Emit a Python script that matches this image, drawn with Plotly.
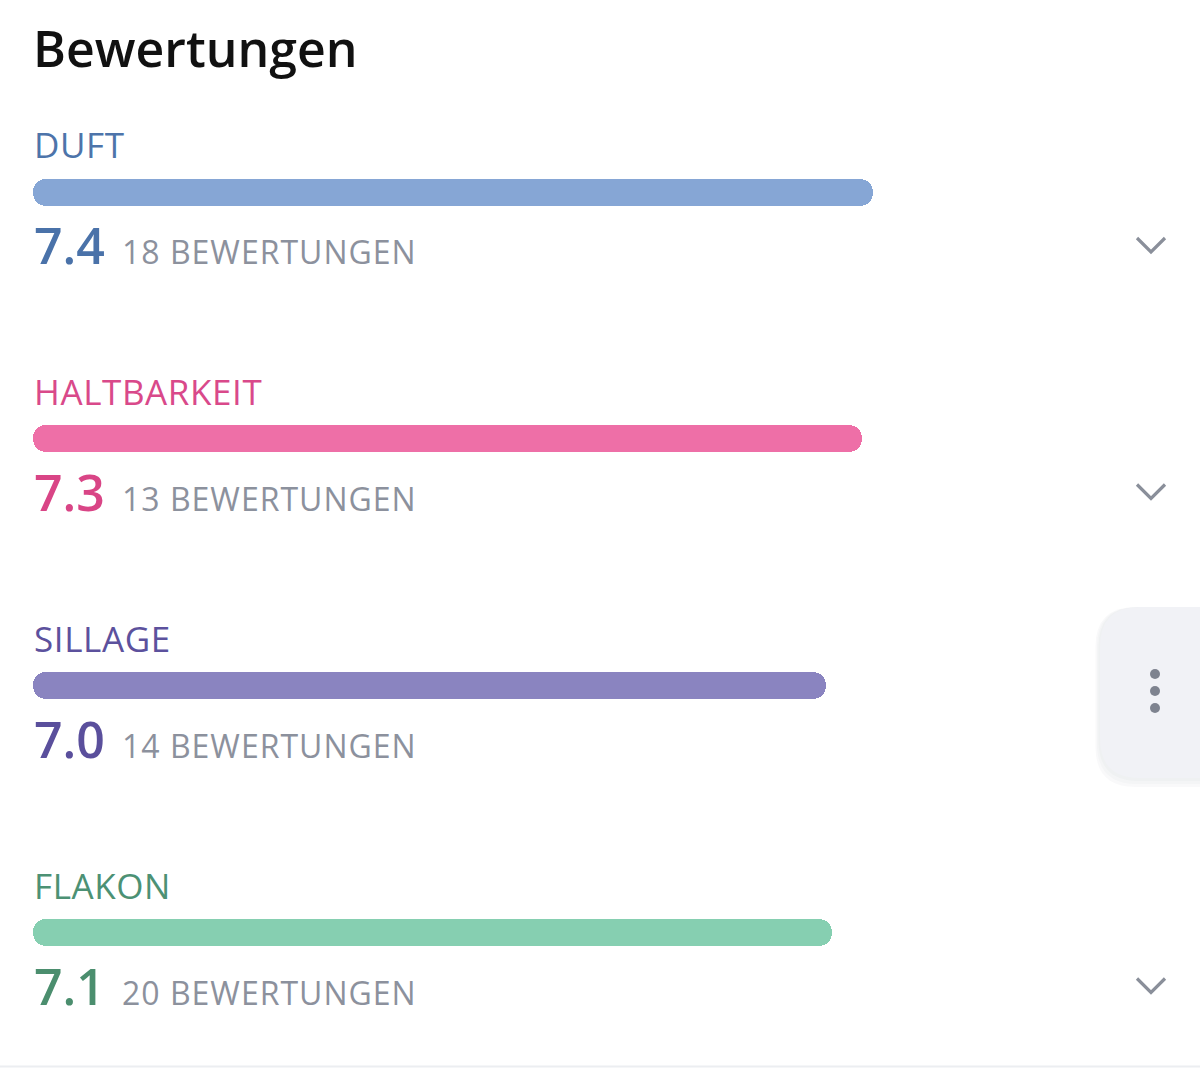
import plotly.graph_objects as go

# ---- data ----
categories = ["DUFT", "HALTBARKEIT", "SILLAGE", "FLAKON"]
scores = [7.4, 7.3, 7.0, 7.1]            # displayed averages
bar_fill = [7.40, 7.30, 6.99, 7.04]       # bar length (out of 10)
counts = [18, 13, 14, 20]
count_label = "BEWERTUNGEN"
title_text = "Bewertungen"
max_score = 10

# ---- styles ----
label_colors = ["#4d74aa", "#d9498a", "#5c519d", "#4c9174"]
bar_colors = ["#86a6d5", "#ee6fa7", "#8a84c0", "#86cfb1"]
score_colors = ["#4a72a9", "#d94586", "#5a4f9c", "#4b8e6e"]
grey = "#8c919d"
show_chevron = [True, True, False, True]

W, H = 1200, 1069
LEFT_PX, FULL_PX = 33, 1135
px_per_unit = FULL_PX / max_score
row_y = [192, 438.5, 685.5, 932.5]   # layout rows (pixel centres of bars)
BAR_H = 27
FONT = "Open Sans"

fig = go.Figure()

fig.add_trace(go.Bar(
    y=row_y, x=bar_fill, base=0, orientation="h",
    width=BAR_H, marker=dict(color=bar_colors, line=dict(width=0), cornerradius=BAR_H / 2),
    hovertemplate="%{customdata}: %{x}<extra></extra>", customdata=categories, showlegend=False))

ann = []
ann.append(dict(x=0, y=48, xref="x", yref="y", text=title_text, showarrow=False,
                xanchor="left", yanchor="middle", xshift=-2,
                font=dict(family=FONT, size=50, color="#111111", weight=600)))
for i, cat in enumerate(categories):
    yc = row_y[i]
    ann.append(dict(x=0, y=yc - 47.5, xref="x", yref="y",
                    text=f"<span style='letter-spacing:0.6px'>{cat}</span>", showarrow=False,
                    xanchor="left", yanchor="middle", xshift=-1,
                    font=dict(family=FONT, size=35, color=label_colors[i])))
    ann.append(dict(x=0, y=yc + 53, xref="x", yref="y", text=f"{scores[i]:.1f}",
                    showarrow=False, xanchor="left", yanchor="middle", xshift=-1,
                    font=dict(family=FONT, size=50, color=score_colors[i], weight=650)))
    ann.append(dict(x=(122 - LEFT_PX) / px_per_unit, y=yc + 59.5, xref="x", yref="y",
                    text=f"<span style='letter-spacing:1.0px'>{counts[i]} {count_label}</span>",
                    showarrow=False, xanchor="left", yanchor="middle", xshift=-2,
                    font=dict(family=FONT, size=32, color=grey)))

shapes = []
# chevrons (pixel axis x2)
for i, yc in enumerate(row_y):
    if show_chevron[i]:
        cy = yc + 53
        shapes.append(dict(type="path", xref="x2", yref="y",
                           path=f"M 1137,{cy-7} L 1151,{cy+7} L 1165,{cy-7}",
                           line=dict(color="#8a8f9a", width=3.2), layer="above"))
# side panel with shadow
def rrect(x0, y0, x1, y1, r):
    return (f"M {x0+r},{y0} L {x1},{y0} L {x1},{y1} L {x0+r},{y1} "
            f"Q {x0},{y1} {x0},{y1-r} L {x0},{y0+r} Q {x0},{y0} {x0+r},{y0} Z")
for k, op in enumerate([0.025, 0.025, 0.03]):
    d = 3 * (k + 1)
    shapes.append(dict(type="path", xref="x2", yref="y", path=rrect(1100 - d / 2, 607, 1210, 778 + d, 40),
                       fillcolor=f"rgba(60,70,90,{op})", line=dict(width=0), layer="below"))
shapes.append(dict(type="path", xref="x2", yref="y", path=rrect(1100, 607, 1210, 778, 40),
                   fillcolor="#f1f2f6", line=dict(width=0), layer="below"))
for dy in [674, 691, 708]:
    shapes.append(dict(type="circle", xref="x2", yref="y", x0=1150, x1=1160, y0=dy - 5, y1=dy + 5,
                       fillcolor="#7e838f", line=dict(width=0)))
# bottom separator
shapes.append(dict(type="line", xref="x2", yref="y", x0=0, x1=W, y0=1066.5, y1=1066.5,
                   line=dict(color="#eceef1", width=2)))

fig.update_layout(
    width=W, height=H, margin=dict(l=0, r=0, t=0, b=0),
    paper_bgcolor="white", plot_bgcolor="white",
    barmode="overlay", bargap=0,
    xaxis=dict(range=[-LEFT_PX / px_per_unit, (W - LEFT_PX) / px_per_unit], visible=False, fixedrange=True),
    xaxis2=dict(range=[0, W], overlaying="x", visible=False, fixedrange=True),
    yaxis=dict(range=[H, 0], visible=False, fixedrange=True),
    annotations=ann, shapes=shapes, showlegend=False,
)
fig.write_html("out.html")
